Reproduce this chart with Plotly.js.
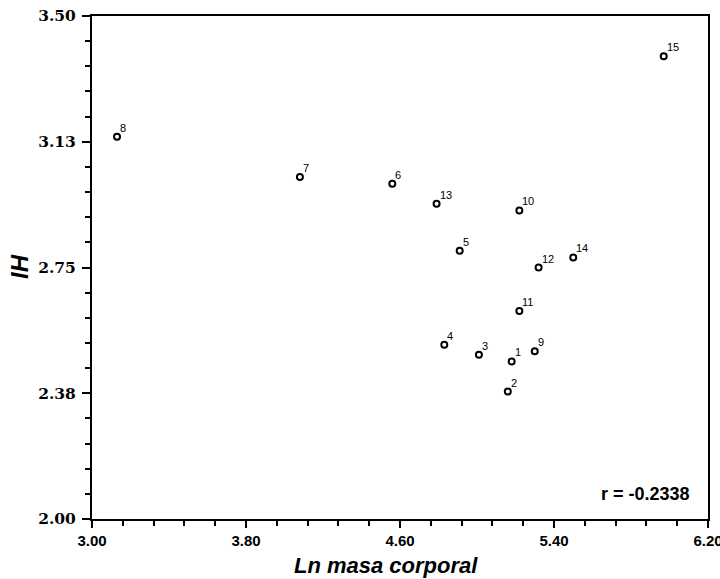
<!DOCTYPE html>
<html>
<head>
<meta charset="utf-8">
<script src="https://cdn.plot.ly/plotly-3.0.1.min.js"></script>
<style>html,body{margin:0;padding:0;background:#fff;}#chart{width:720px;height:579px;}</style>
</head>
<body>
<div id="chart"></div>
<script>
// Data
const pointLabels = ["1","2","3","4","5","6","7","8","9","10","11","12","13","14","15"];
const lnMasaCorporal = [5.18, 5.16, 5.01, 4.83, 4.91, 4.56, 4.08, 3.13, 5.30, 5.22, 5.22, 5.32, 4.79, 5.50, 5.97];
const ihValues = [2.47, 2.38, 2.49, 2.52, 2.80, 3.00, 3.02, 3.14, 2.50, 2.92, 2.62, 2.75, 2.94, 2.78, 3.38];
const xTickVals = [3.0, 3.8, 4.6, 5.4, 6.2];
const xTickText = ["3.00", "3.80", "4.60", "5.40", "6.20"];
const yTickVals = [2.0, 2.375, 2.75, 3.125, 3.5];
const yTickText = ["2.00", "2.38", "2.75", "3.13", "3.50"];
const rText = "r = -0.2338";
const xTitle = "Ln masa corporal";
const yTitle = "IH";

const W = 720, H = 579;
const M = {l: 92, r: 12, t: 16, b: 60};

const trace = {
  x: lnMasaCorporal,
  y: ihValues,
  type: 'scatter',
  mode: 'markers',
  marker: {symbol: 'circle-open', size: 6, color: '#000', line: {width: 2, color: '#000'}},
  cliponaxis: false,
  hoverinfo: 'none'
};

const labelAnnotations = pointLabels.map((t, i) => ({
  text: t, x: lnMasaCorporal[i], y: ihValues[i], xref: 'x', yref: 'y',
  xanchor: 'left', yanchor: 'bottom', xshift: 1, yshift: 1, showarrow: false,
  font: {family: 'Liberation Sans, Arial, sans-serif', size: 11, color: '#000'}
}));

const layout = {
  width: W, height: H,
  margin: M,
  paper_bgcolor: '#fff', plot_bgcolor: '#fff',
  showlegend: false,
  xaxis: {
    range: [3.0, 6.2],
    tickvals: xTickVals, ticktext: xTickText,
    ticklabeloverflow: 'allow',
    ticks: 'outside', ticklen: 7, tickwidth: 2, tickcolor: '#000',
    minor: {dtick: 0.16, tick0: 3.0, ticks: 'outside', ticklen: 5, tickwidth: 2, tickcolor: '#000', showgrid: false},
    showline: true, linewidth: 2, linecolor: '#000', mirror: true,
    showgrid: false, zeroline: false,
    tickfont: {family: 'Liberation Sans, Arial, sans-serif', size: 15, color: '#000', weight: 'bold'}
  },
  yaxis: {
    range: [2.0, 3.5],
    tickvals: yTickVals, ticktext: yTickText,
    ticklabeloverflow: 'allow',
    ticklabelstandoff: 3,
    ticks: 'outside', ticklen: 8, tickwidth: 2, tickcolor: '#000',
    minor: {dtick: 0.075, tick0: 2.0, ticks: 'outside', ticklen: 5, tickwidth: 2, tickcolor: '#000', showgrid: false},
    showline: true, linewidth: 2, linecolor: '#000', mirror: true,
    showgrid: false, zeroline: false,
    tickfont: {family: 'DejaVu Serif, serif', size: 15.5, color: '#000', weight: 'bold'}
  },
  annotations: labelAnnotations.concat([
    {
      text: rText, xref: 'paper', yref: 'paper', x: (692 - M.l) / (W - M.l - M.r), y: (H - M.b - 494) / (H - M.t - M.b),
      xanchor: 'right', yanchor: 'middle', showarrow: false,
      font: {family: 'Liberation Sans, Arial, sans-serif', size: 18, color: '#000', weight: 'bold'}
    },
    {
      text: xTitle, xref: 'paper', yref: 'paper', x: (386 - M.l) / (W - M.l - M.r), y: (H - M.b - 565) / (H - M.t - M.b),
      xanchor: 'center', yanchor: 'middle', showarrow: false,
      font: {family: 'Liberation Sans, Arial, sans-serif', size: 22, color: '#000', weight: 'bold', style: 'italic'}
    },
    {
      text: yTitle, xref: 'paper', yref: 'paper', x: (19 - M.l) / (W - M.l - M.r), y: (H - M.b - 267) / (H - M.t - M.b),
      xanchor: 'center', yanchor: 'middle', showarrow: false, textangle: -90,
      font: {family: 'Liberation Sans, Arial, sans-serif', size: 24, color: '#000', weight: 'bold', style: 'italic'}
    }
  ])
};

Plotly.newPlot('chart', [trace], layout, {displayModeBar: false, staticPlot: true});
</script>
</body>
</html>
